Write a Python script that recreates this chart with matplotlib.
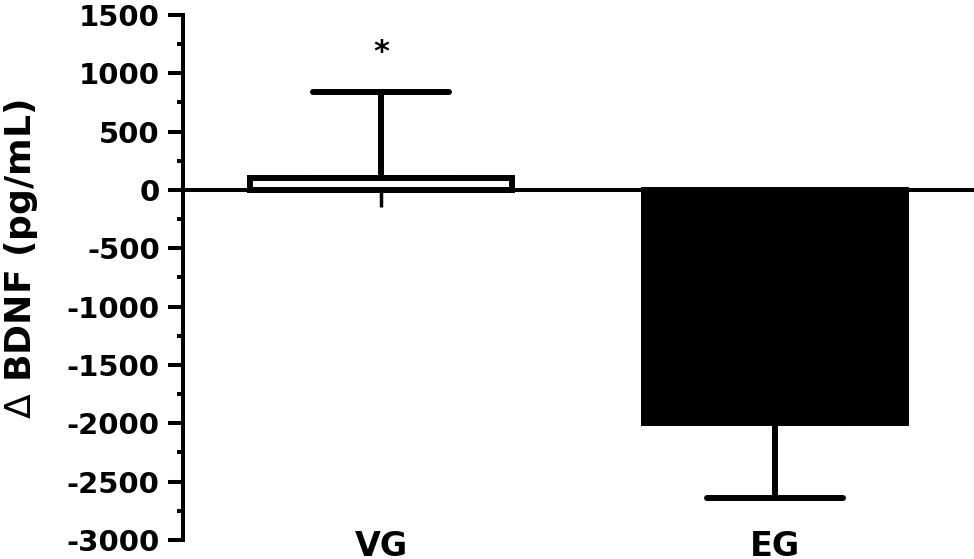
import matplotlib
matplotlib.use("Agg")
import matplotlib.pyplot as plt
from matplotlib.markers import MarkerStyle
from matplotlib.ticker import MultipleLocator
import matplotlib.transforms as mtransforms

plt.rcParams['font.family'] = ['DejaVu Sans']
plt.rcParams['font.weight'] = 'bold'
plt.rcParams['mathtext.fontset'] = 'custom'
plt.rcParams['mathtext.rm'] = 'DejaVu Sans:normal'

categories = ["VG", "EG"]
means = [100, -2000]
err_lower = [0, 640]
err_upper = [740, 0]
bar_colors = ["white", "black"]
sig_marks = ["*", ""]
y_ticks = [1500, 1000, 500, 0, -500, -1000, -1500, -2000, -2500, -3000]

fig = plt.figure(figsize=(9.74, 5.59), dpi=100)
ax = fig.add_axes([183/974, 19/559, 791/974, 525/559])

x = list(range(len(categories)))
ax.bar(x, means, width=0.665, color=bar_colors, edgecolor="black",
       linewidth=4.3, zorder=2)
eb = ax.errorbar(x, means, yerr=[err_lower, err_upper], fmt="none",
                 ecolor="black", elinewidth=4.3, capsize=49, capthick=4.3,
                 zorder=3)
for cap in eb[1]:
    cap.set_marker(MarkerStyle('_', capstyle='round'))

for xi, m, eu, s in zip(x, means, err_upper, sig_marks):
    if s:
        ax.text(xi, m + eu + 340, s, ha="center", va="center",
                fontsize=22, fontweight="bold")

ax.set_xlim(-0.5025, 1.505)
ax.set_ylim(-3000, 1500)
ax.set_yticks(y_ticks)
ax.set_yticklabels([str(v) for v in y_ticks])
ax.yaxis.set_minor_locator(MultipleLocator(250))

ax.spines["top"].set_visible(False)
ax.spines["right"].set_visible(False)
ax.spines["left"].set_linewidth(2.9)
ax.spines["bottom"].set_linewidth(2.9)
ax.spines["bottom"].set_position(("data", 0))
ax.spines["bottom"].set_zorder(4)

ax.tick_params(axis="y", which="major", direction="out", length=10.8,
               width=2.9, labelsize=21, pad=6)
ax.tick_params(axis="y", which="minor", direction="out", length=4.5,
               width=2.9)
ax.set_xticks(x)
ax.tick_params(axis="x", which="major", direction="out", length=12,
               width=2.5, labelbottom=False)
for lab in ax.get_yticklabels():
    lab.set_fontweight("bold")

trans = mtransforms.blended_transform_factory(ax.transData, ax.transAxes)
for xi, c in zip(x, categories):
    ax.text(xi, 0.019, c, transform=trans, ha="center", va="top",
            fontsize=24, fontweight="bold")

ax.set_ylabel(r"$\mathrm{\Delta}$ BDNF (pg/mL)", fontsize=26, fontweight="bold")
ax.yaxis.set_label_coords(-0.181, 0.535)

ax.patch.set_visible(False)
fig.savefig("out.png", dpi=100)
